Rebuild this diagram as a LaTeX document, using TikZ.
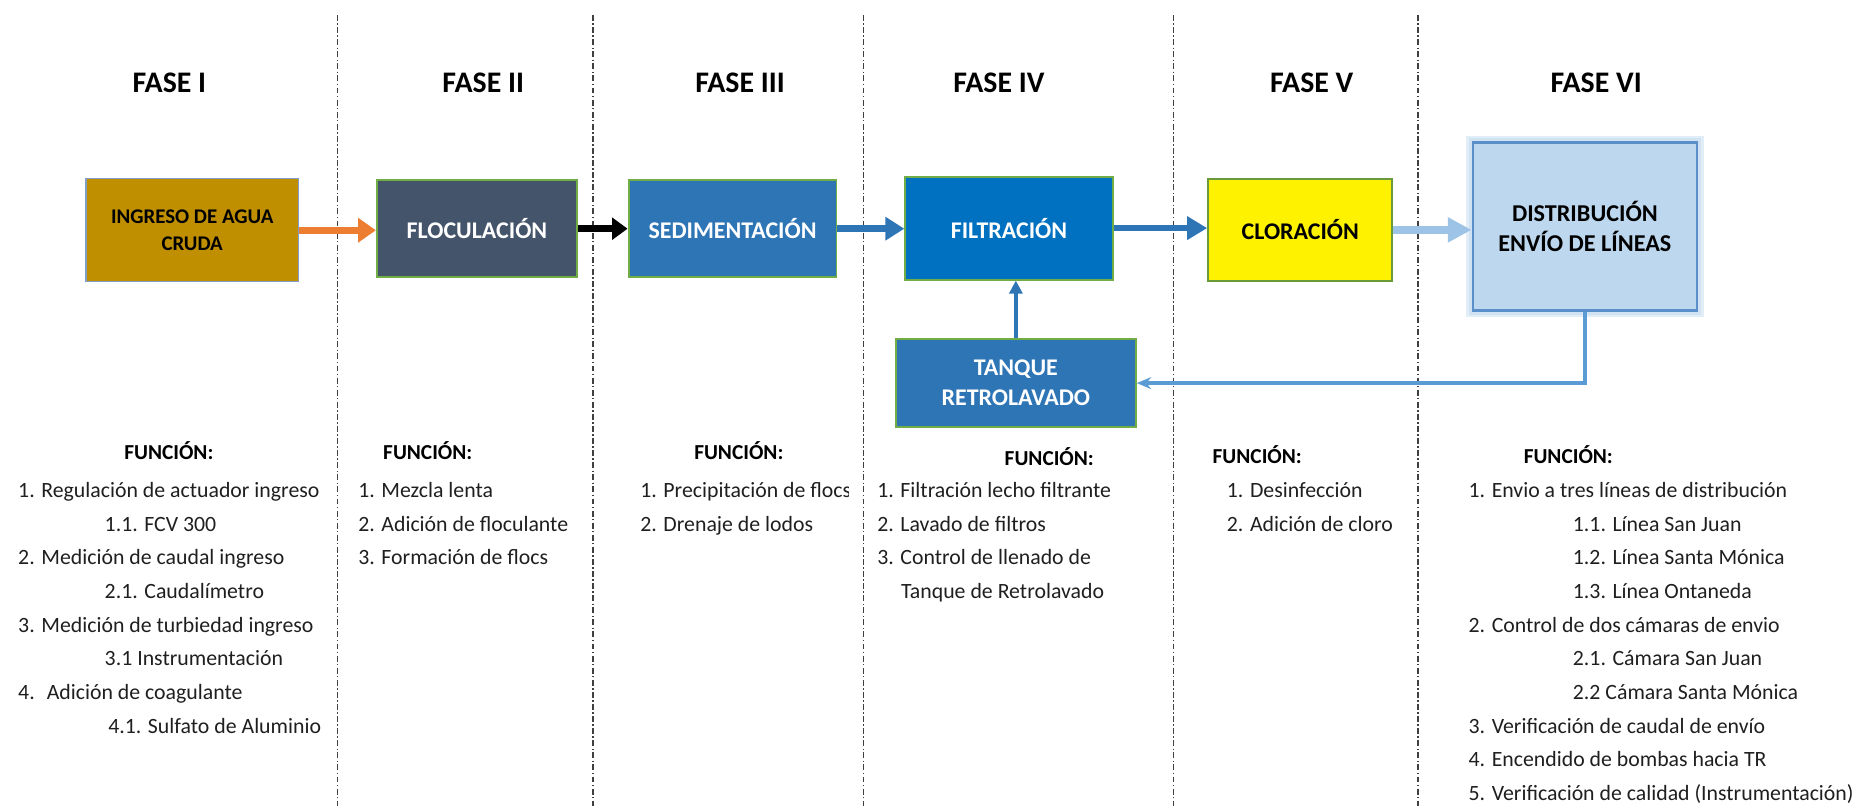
\documentclass[tikz,border=0pt]{standalone}
\usepackage{fontspec}
\setmainfont{Carlito}
\usetikzlibrary{arrows.meta,backgrounds}

\definecolor{gold}{HTML}{BF8F00}
\definecolor{slate}{HTML}{44546A}
\definecolor{midblue}{HTML}{2E75B6}
\definecolor{deepblue}{HTML}{0070C0}
\definecolor{paleblue}{HTML}{BDD7EE}
\definecolor{lightblue}{HTML}{9DC3E6}
\definecolor{skyblue}{HTML}{5B9BD5}
\definecolor{distedge}{HTML}{5B8FC9}
\definecolor{leaf}{HTML}{70AD47}
\definecolor{olive}{HTML}{6A9A3A}
\definecolor{goldedge}{HTML}{7F9FC8}
\definecolor{orangearrow}{HTML}{ED7D31}
\definecolor{sepgray}{HTML}{404040}
\definecolor{txt}{HTML}{1F1F1F}

\tikzset{
  stage/.style={draw=leaf, line width=0.8pt, inner sep=0pt, align=center,
    font=\fontsize{10.1}{12.7}\selectfont\bfseries, text=white},
  phase/.style={font=\fontsize{12.6}{15}\selectfont\bfseries, inner sep=0pt},
  fhead/.style={font=\fontsize{9}{11}\selectfont\bfseries, inner sep=0pt, anchor=base},
  item/.style={font=\fontsize{9.2}{11}\selectfont, inner sep=0pt, anchor=base west, text=txt},
  sepline/.style={sepgray, line width=0.6pt, dash pattern=on 2.5pt off 1pt on 0.6pt off 1pt},
}

\begin{document}
\begin{tikzpicture}[x=0.5pt,y=-0.5pt]
\useasboundingbox (0,0) rectangle (1568,680);

% phase separators
\foreach \sx in {284.6,500.5,728.5,990.3,1196.5}
  \draw[sepline] (\sx,12.7) -- (\sx,680);

% phase titles
\node[phase] (p1) at (143,70.3) {FASE I};
\node[phase] (p2) at (407.8,70.3) {FASE II};
\node[phase] (p3) at (624.5,70.3) {FASE III};
\node[phase] (p4) at (843,70.3) {FASE IV};
\node[phase] (p5) at (1107,70.3) {FASE V};
\node[phase] (p6) at (1347,70.3) {FASE VI};

% process stages
\node[stage, fill=gold, draw=goldedge, line width=0.6pt, text=black,
      font=\fontsize{8.8}{11}\selectfont\bfseries,
      minimum width=89.75pt, minimum height=43.5pt] (ing) at (162.2,194.3)
      {INGRESO DE AGUA\\CRUDA};
\node[stage, fill=slate, minimum width=84.5pt, minimum height=41pt] (floc) at (402.5,193) {FLOCULACIÓN};
\node[stage, fill=midblue, minimum width=87.75pt, minimum height=41pt] (sed) at (618.2,193) {SEDIMENTACIÓN};
\node[stage, fill=deepblue, minimum width=87.5pt, minimum height=43.5pt] (fil) at (851.5,192.5) {FILTRACIÓN};
\node[stage, fill=yellow, draw=olive, text=black, minimum width=77.7pt, minimum height=43pt] (clo) at (1097.3,194) {CLORACIÓN};
\node[stage, fill=paleblue, draw=distedge, line width=1.1pt, text=black, font=\fontsize{10.2}{12.7}\selectfont\bfseries,
      minimum width=94.5pt, minimum height=70.8pt] (dist) at (1337.5,191.2) {DISTRIBUCIÓN\\ENVÍO DE LÍNEAS};
\node[stage, fill=midblue, minimum width=101.3pt, minimum height=37.3pt] (tanq) at (857.3,323.3) {TANQUE\\RETROLAVADO};

% soft halo around the distribution block
\begin{scope}[on background layer]
  \fill[paleblue, opacity=0.45] ([shift={(-2.4pt,2.4pt)}]dist.north west) rectangle ([shift={(2.4pt,-2.4pt)}]dist.south east);
  \fill[paleblue, opacity=0.45] ([shift={(-1.3pt,1.3pt)}]dist.north west) rectangle ([shift={(1.3pt,-1.3pt)}]dist.south east);
\end{scope}

% main flow
\draw[line width=3.1pt, orangearrow, -{Triangle[length=7.5pt,width=10pt]}] (ing.east) -- (ing.east -| floc.west);
\draw[line width=3pt, black, -{Triangle[length=6.5pt,width=9pt]}] (floc.east) -- (floc.east -| sed.west);
\draw[line width=2.8pt, midblue, -{Triangle[length=8pt,width=9.5pt]}] (sed.east) -- (sed.east -| fil.west);
\draw[line width=2.8pt, midblue, -{Triangle[length=8.5pt,width=9.5pt]}] (fil.east) -- (fil.east -| clo.west);
\draw[line width=3.4pt, lightblue, -{Triangle[length=10pt,width=10pt]}] (clo.east) -- (clo.east -| dist.west);

% backwash loop
\draw[line width=1.6pt, midblue, -{Triangle[length=5.5pt,width=5.5pt]}] (tanq.north) -- (tanq.north |- fil.south);
\draw[line width=1.4pt, skyblue, -{Stealth[length=6pt,width=5pt]}] (dist.south) |- (tanq.east);

% function lists
\node[fhead] (h1) at (142.5,388) {FUNCIÓN:};
\node[fhead] (h2) at (361,388) {FUNCIÓN:};
\node[fhead] (h3) at (623.5,388) {FUNCIÓN:};
\node[fhead] (h4) at (885.5,393) {FUNCIÓN:};
\node[fhead] (h5) at (1061,391) {FUNCIÓN:};
\node[fhead] (h6) at (1323.5,391) {FUNCIÓN:};

\foreach \dx/\txt [count=\k from 0] in {
    15/{1. Regulación de actuador ingreso},
    88/{1.1. FCV 300},
    15/{2. Medición de caudal ingreso},
    88/{2.1. Caudalímetro},
    15/{3. Medición de turbiedad ingreso},
    88/{3.1 Instrumentación},
    15/{4.\hspace{0.55em}Adición de coagulante},
    91/{4.1. Sulfato de Aluminio}}
  \node[item] (a\k) at (\dx,420+28.4*\k) {\txt};

\foreach \txt [count=\k from 0] in {
    {1. Mezcla lenta},
    {2. Adición de floculante},
    {3. Formación de flocs}}
  \node[item] (b\k) at (302,420+28.4*\k) {\txt};

\begin{scope}
  \clip (530,398) rectangle (716,432);
  \node[item] (c0) at (540,420) {1. Precipitación de flocs};
\end{scope}
\node[item] (c1) at (540,448.4) {2. Drenaje de lodos};

\foreach \dx/\txt [count=\k from 0] in {
    740/{1. Filtración lecho filtrante},
    740/{2. Lavado de filtros},
    740/{3. Control de llenado de},
    760/{Tanque de Retrolavado}}
  \node[item] (d\k) at (\dx,420+28.4*\k) {\txt};

\foreach \txt [count=\k from 0] in {
    {1. Desinfección},
    {2. Adición de cloro}}
  \node[item] (e\k) at (1035,420+28.4*\k) {\txt};

\foreach \dx/\txt [count=\k from 0] in {
    1239/{1. Envio a tres líneas de distribución},
    1327/{1.1. Línea San Juan},
    1327/{1.2. Línea Santa Mónica},
    1327/{1.3. Línea Ontaneda},
    1239/{2. Control de dos cámaras de envio},
    1327/{2.1. Cámara San Juan},
    1327/{2.2 Cámara Santa Mónica},
    1239/{3. Verificación de caudal de envío},
    1239/{4. Encendido de bombas hacia TR},
    1239/{5. Verificación de calidad (Instrumentación)}}
  \node[item] (g\k) at (\dx,420+28.4*\k) {\txt};

\end{tikzpicture}
\end{document}
